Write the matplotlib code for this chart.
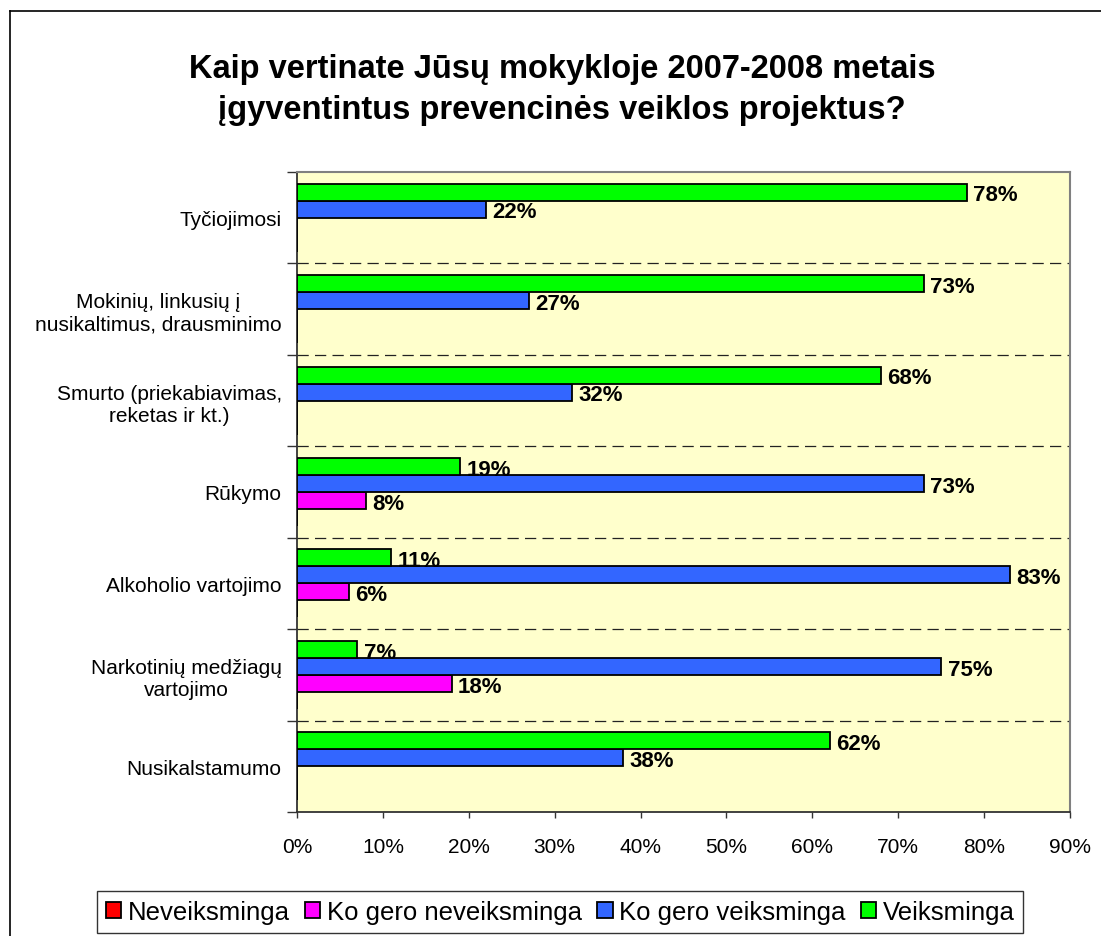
import matplotlib
matplotlib.use("Agg")
import matplotlib.pyplot as plt
import numpy as np
from matplotlib.lines import Line2D

plt.rcParams['font.family'] = ['Liberation Sans', 'DejaVu Sans']

categories = [
    "Tyčiojimosi",
    "Mokinių, linkusių į\nnusikaltimus, drausminimo",
    "Smurto (priekabiavimas,\nreketas ir kt.)",
    "Rūkymo",
    "Alkoholio vartojimo",
    "Narkotinių medžiagų\nvartojimo",
    "Nusikalstamumo",
]
series_names = ["Neveiksminga", "Ko gero neveiksminga", "Ko gero veiksminga", "Veiksminga"]
neveiksminga = [0, 0, 0, 0, 0, 0, 0]
ko_gero_neveiksminga = [0, 0, 0, 8, 6, 18, 0]
ko_gero_veiksminga = [22, 27, 32, 73, 83, 75, 38]
veiksminga = [78, 73, 68, 19, 11, 7, 62]
colors = ["#FF0000", "#FF00FF", "#3366FF", "#00FF00"]
xticks = list(range(0, 100, 10))
title = "Kaip vertinate Jūsų mokykloje 2007-2008 metais\nįgyventintus prevencinės veiklos projektus?"

W, H = 1101, 937
fig = plt.figure(figsize=(W / 100, H / 100), dpi=100)
fig.patch.set_facecolor("white")

# outer chart border (left and top visible)
fig.add_artist(Line2D([10 / W, 10 / W], [0, 1 - 12 / H], transform=fig.transFigure, color="black", lw=1.2))
fig.add_artist(Line2D([10 / W, 1], [1 - 12 / H, 1 - 12 / H], transform=fig.transFigure, color="black", lw=1.2))

ax = fig.add_axes([297 / W, 1 - 813 / H, (1070 - 297) / W, (813 - 173) / H])
ax.set_facecolor("#FFFFCC")

n = len(categories)
y = np.arange(n)
h = 0.186
data = [neveiksminga, ko_gero_neveiksminga, ko_gero_veiksminga, veiksminga]
offsets = [1.5 * h, 0.5 * h, -0.5 * h, -1.5 * h]
for vals, col, off, name in zip(data, colors, offsets, series_names):
    bars = ax.barh(y + off, vals, height=h, color=col, edgecolor="black", linewidth=1.3,
                   label=name, zorder=3)
    for b, v in zip(bars, vals):
        if v > 0:
            ax.text(v + 0.75, b.get_y() + b.get_height() / 2 + 0.03, f"{v}%",
                    ha="left", va="center", fontsize=16, fontweight="bold", zorder=4)

ax.set_xlim(0, 90)
ax.set_ylim(n - 0.5, -0.5)
ax.set_xticks(xticks)
ax.set_xticklabels([f"{t}%" for t in xticks], fontsize=15)
ax.tick_params(axis="x", direction="out", length=4, width=1, color="#333333", pad=14)

ax.set_yticks(y)
ax.set_yticklabels(categories, fontsize=15, multialignment="center")
ax.tick_params(axis="y", which="major", length=0, pad=11)
ax.set_yticks(np.arange(n + 1) - 0.5, minor=True)
ax.tick_params(axis="y", which="minor", direction="out", length=7, width=1, color="#333333")

for b in np.arange(n - 1) + 0.5:
    ax.axhline(b, color="#222222", lw=0.9, ls=(0, (9, 5)), zorder=1)

for s in ["top", "right"]:
    ax.spines[s].set_color("#808080")
    ax.spines[s].set_linewidth(1.5)
for s in ["left", "bottom"]:
    ax.spines[s].set_color("#333333")
    ax.spines[s].set_linewidth(1.3)

fig.text(562 / W, 1 - 90 / H, title, ha="center", va="center", fontsize=23.5,
         fontweight="bold", linespacing=1.4)

handles, labels = ax.get_legend_handles_labels()
leg = fig.legend(handles, labels, loc="center", bbox_to_anchor=(560 / W, 1 - 913 / H),
                 ncol=4, fontsize=18.5, frameon=True, fancybox=False, edgecolor="black",
                 handlelength=0.6, handleheight=0.6, handletextpad=0.25, columnspacing=0.6,
                 borderpad=0.35, borderaxespad=0)
leg.get_frame().set_linewidth(1.0)

fig.savefig("out.png", dpi=100)
